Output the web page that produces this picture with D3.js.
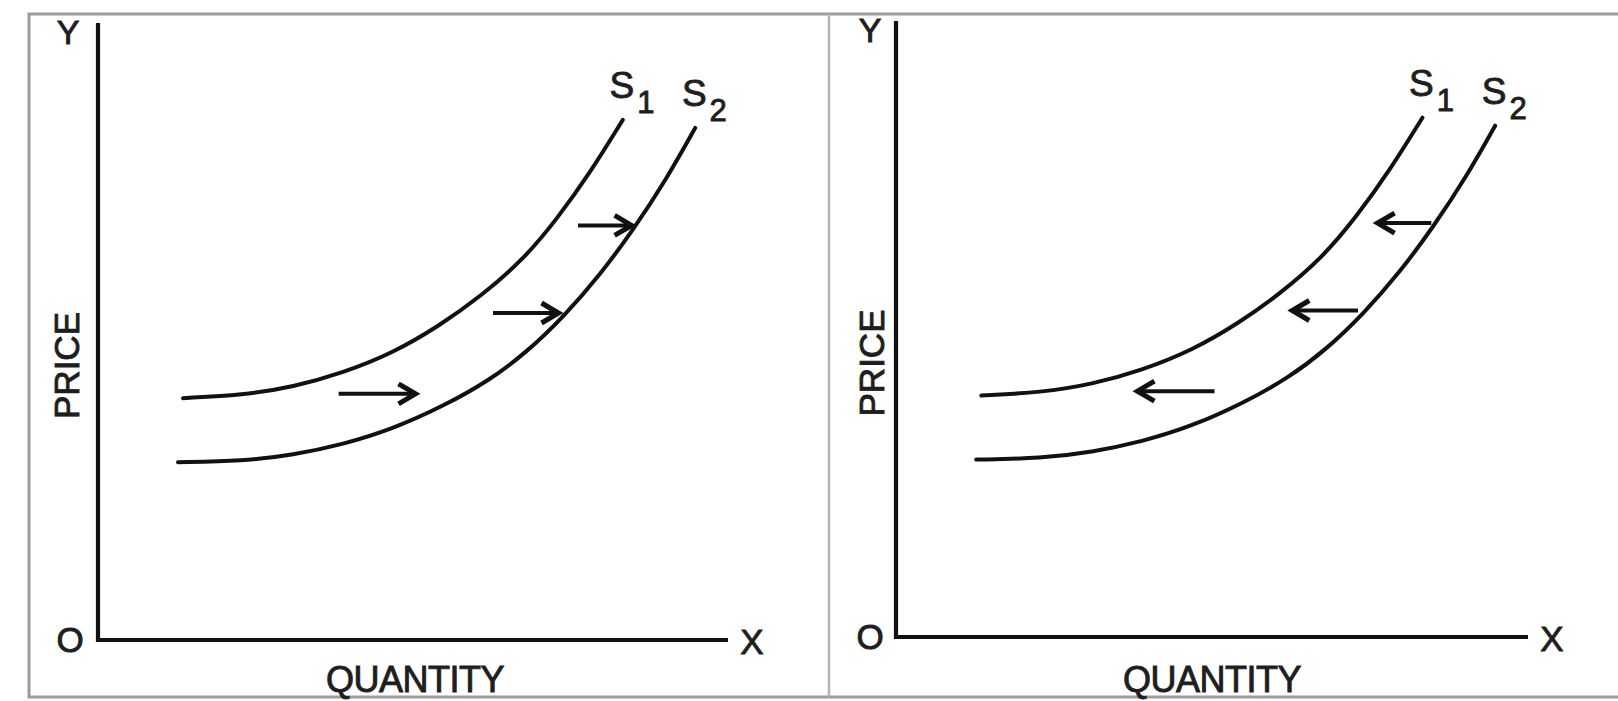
<!DOCTYPE html>
<html>
<head>
<meta charset="utf-8">
<script src="https://cdn.jsdelivr.net/npm/d3@7"></script>
<style>
  html, body { margin: 0; padding: 0; background: #ffffff; }
  svg { display: block; }
  text { font-family: "Liberation Sans", Arial, Helvetica, sans-serif; fill: #1e1e1e; stroke: #1e1e1e; stroke-width: 0.9px; }
</style>
</head>
<body>
<svg id="chart" width="1618" height="701"></svg>
<script>
// ---- data (quantity / price in axis units 0..100) ----
const s1Quantity = [13.5, 23.0, 31.0, 38.9, 46.8, 54.3, 60.6, 67.5, 72.9, 78.1, 83.3];
const s1Price    = [39.2, 39.7, 41.0, 43.3, 46.5, 51.0, 55.6, 61.6, 68.3, 75.7, 84.3];
const s2Quantity = [12.7, 23.0, 31.0, 38.9, 46.8, 55.0, 62.0, 68.0, 74.0, 79.7, 84.9, 90.3, 94.8];
const s2Price    = [28.8, 29.0, 30.0, 31.7, 34.2, 38.0, 42.0, 46.6, 52.5, 59.2, 66.4, 74.8, 83.0];
const arrowPrice = [39.9, 53.0, 67.2];
const arrowQtyLow  = [38.2, 62.7, 76.2];
const arrowQtyHigh = [50.4, 73.1, 84.7];
const curveNames = ["S", "S"];
const curveSubs  = ["1", "2"];
const axisLabels = { y: "Y", x: "X", origin: "O", price: "PRICE", quantity: "QUANTITY" };
const panelShift = ["right", "left"];   // direction of the supply shift arrows

// ---- layout ----
const svg = d3.select("#chart");
const panels = [
  { left: 98,  right: 728,  top: 23, bottom: 640, priceX: 79 },
  { left: 896, right: 1528, top: 21, bottom: 637, priceX: 884 }
];

// frame
const frame = svg.append("g").attr("fill", "none");
frame.append("path").attr("d", "M1618,14 L29,14 L29,697 L1618,697")
  .attr("stroke", "#9c9c9c").attr("stroke-width", 3);
frame.append("line").attr("x1", 829).attr("x2", 829).attr("y1", 14).attr("y2", 697)
  .attr("stroke", "#b4b4b4").attr("stroke-width", 2.5);

const curves = [
  s1Quantity.map((q, i) => [q, s1Price[i]]),
  s2Quantity.map((q, i) => [q, s2Price[i]])
];

panels.forEach((p, pi) => {
  const x = d3.scaleLinear().domain([0, 100]).range([p.left, p.right]);
  const y = d3.scaleLinear().domain([0, 100]).range([p.bottom, p.top]);
  const g = svg.append("g");

  // axes (L shape)
  g.append("path")
    .attr("d", `M${x(0)},${y(100)} L${x(0)},${y(0)} L${x(100)},${y(0)}`)
    .attr("fill", "none").attr("stroke", "#111").attr("stroke-width", 4.2)
    .attr("stroke-linejoin", "miter");

  // axis letters
  g.append("text").attr("x", x(0) - (pi ? 26 : 30)).attr("y", y(100) + 21)
    .attr("text-anchor", "middle").attr("font-size", 34).text(axisLabels.y);
  g.append("text").attr("x", x(0) - (pi ? 26 : 28)).attr("y", y(0) + 12)
    .attr("text-anchor", "middle").attr("font-size", 35).text(axisLabels.origin);
  g.append("text").attr("x", x(100) + 24).attr("y", y(0) + 14)
    .attr("text-anchor", "middle").attr("font-size", 35).text(axisLabels.x);
  g.append("text").attr("x", (x(0) + x(100)) / 2 + (pi ? 0 : 2)).attr("y", 692)
    .attr("text-anchor", "middle").attr("font-size", 36).attr("letter-spacing", -0.5)
    .text(axisLabels.quantity);
  g.append("text")
    .attr("transform", `translate(${p.priceX},${(y(0) + y(100)) / 2 + 34}) rotate(-90)`)
    .attr("text-anchor", "middle").attr("font-size", 35).text(axisLabels.price);

  // supply curves
  const line = d3.line().x(d => x(d[0])).y(d => y(d[1])).curve(d3.curveBasis);
  curves.forEach((c, ci) => {
    g.append("path").attr("d", line(c)).attr("fill", "none")
      .attr("stroke", "#111").attr("stroke-width", 4).attr("stroke-linecap", "round");
    const end = c[c.length - 1];
    g.append("text").attr("x", x(end[0]) - 1).attr("y", y(end[1]) - 22)
      .attr("text-anchor", "middle").attr("font-size", 37).text(curveNames[ci]);
    g.append("text").attr("x", x(end[0]) + 23).attr("y", y(end[1]) - 7)
      .attr("text-anchor", "middle").attr("font-size", 31).text(curveSubs[ci]);
  });

  // shift arrows
  arrowPrice.forEach((pr, ai) => {
    const from = panelShift[pi] === "right" ? arrowQtyLow[ai] : arrowQtyHigh[ai];
    const to   = panelShift[pi] === "right" ? arrowQtyHigh[ai] : arrowQtyLow[ai];
    const x0 = x(from), x1 = x(to), yy = y(pr);
    const dir = Math.sign(x1 - x0);
    g.append("line").attr("x1", x0).attr("x2", x1 - dir * 3).attr("y1", yy).attr("y2", yy)
      .attr("stroke", "#111").attr("stroke-width", 4);
    g.append("path")
      .attr("d", `M${x1 - dir * 17},${yy - 10} L${x1},${yy} L${x1 - dir * 17},${yy + 10}`)
      .attr("fill", "none").attr("stroke", "#111").attr("stroke-width", 5)
      .attr("stroke-linejoin", "miter");
  });
});
</script>
</body>
</html>
